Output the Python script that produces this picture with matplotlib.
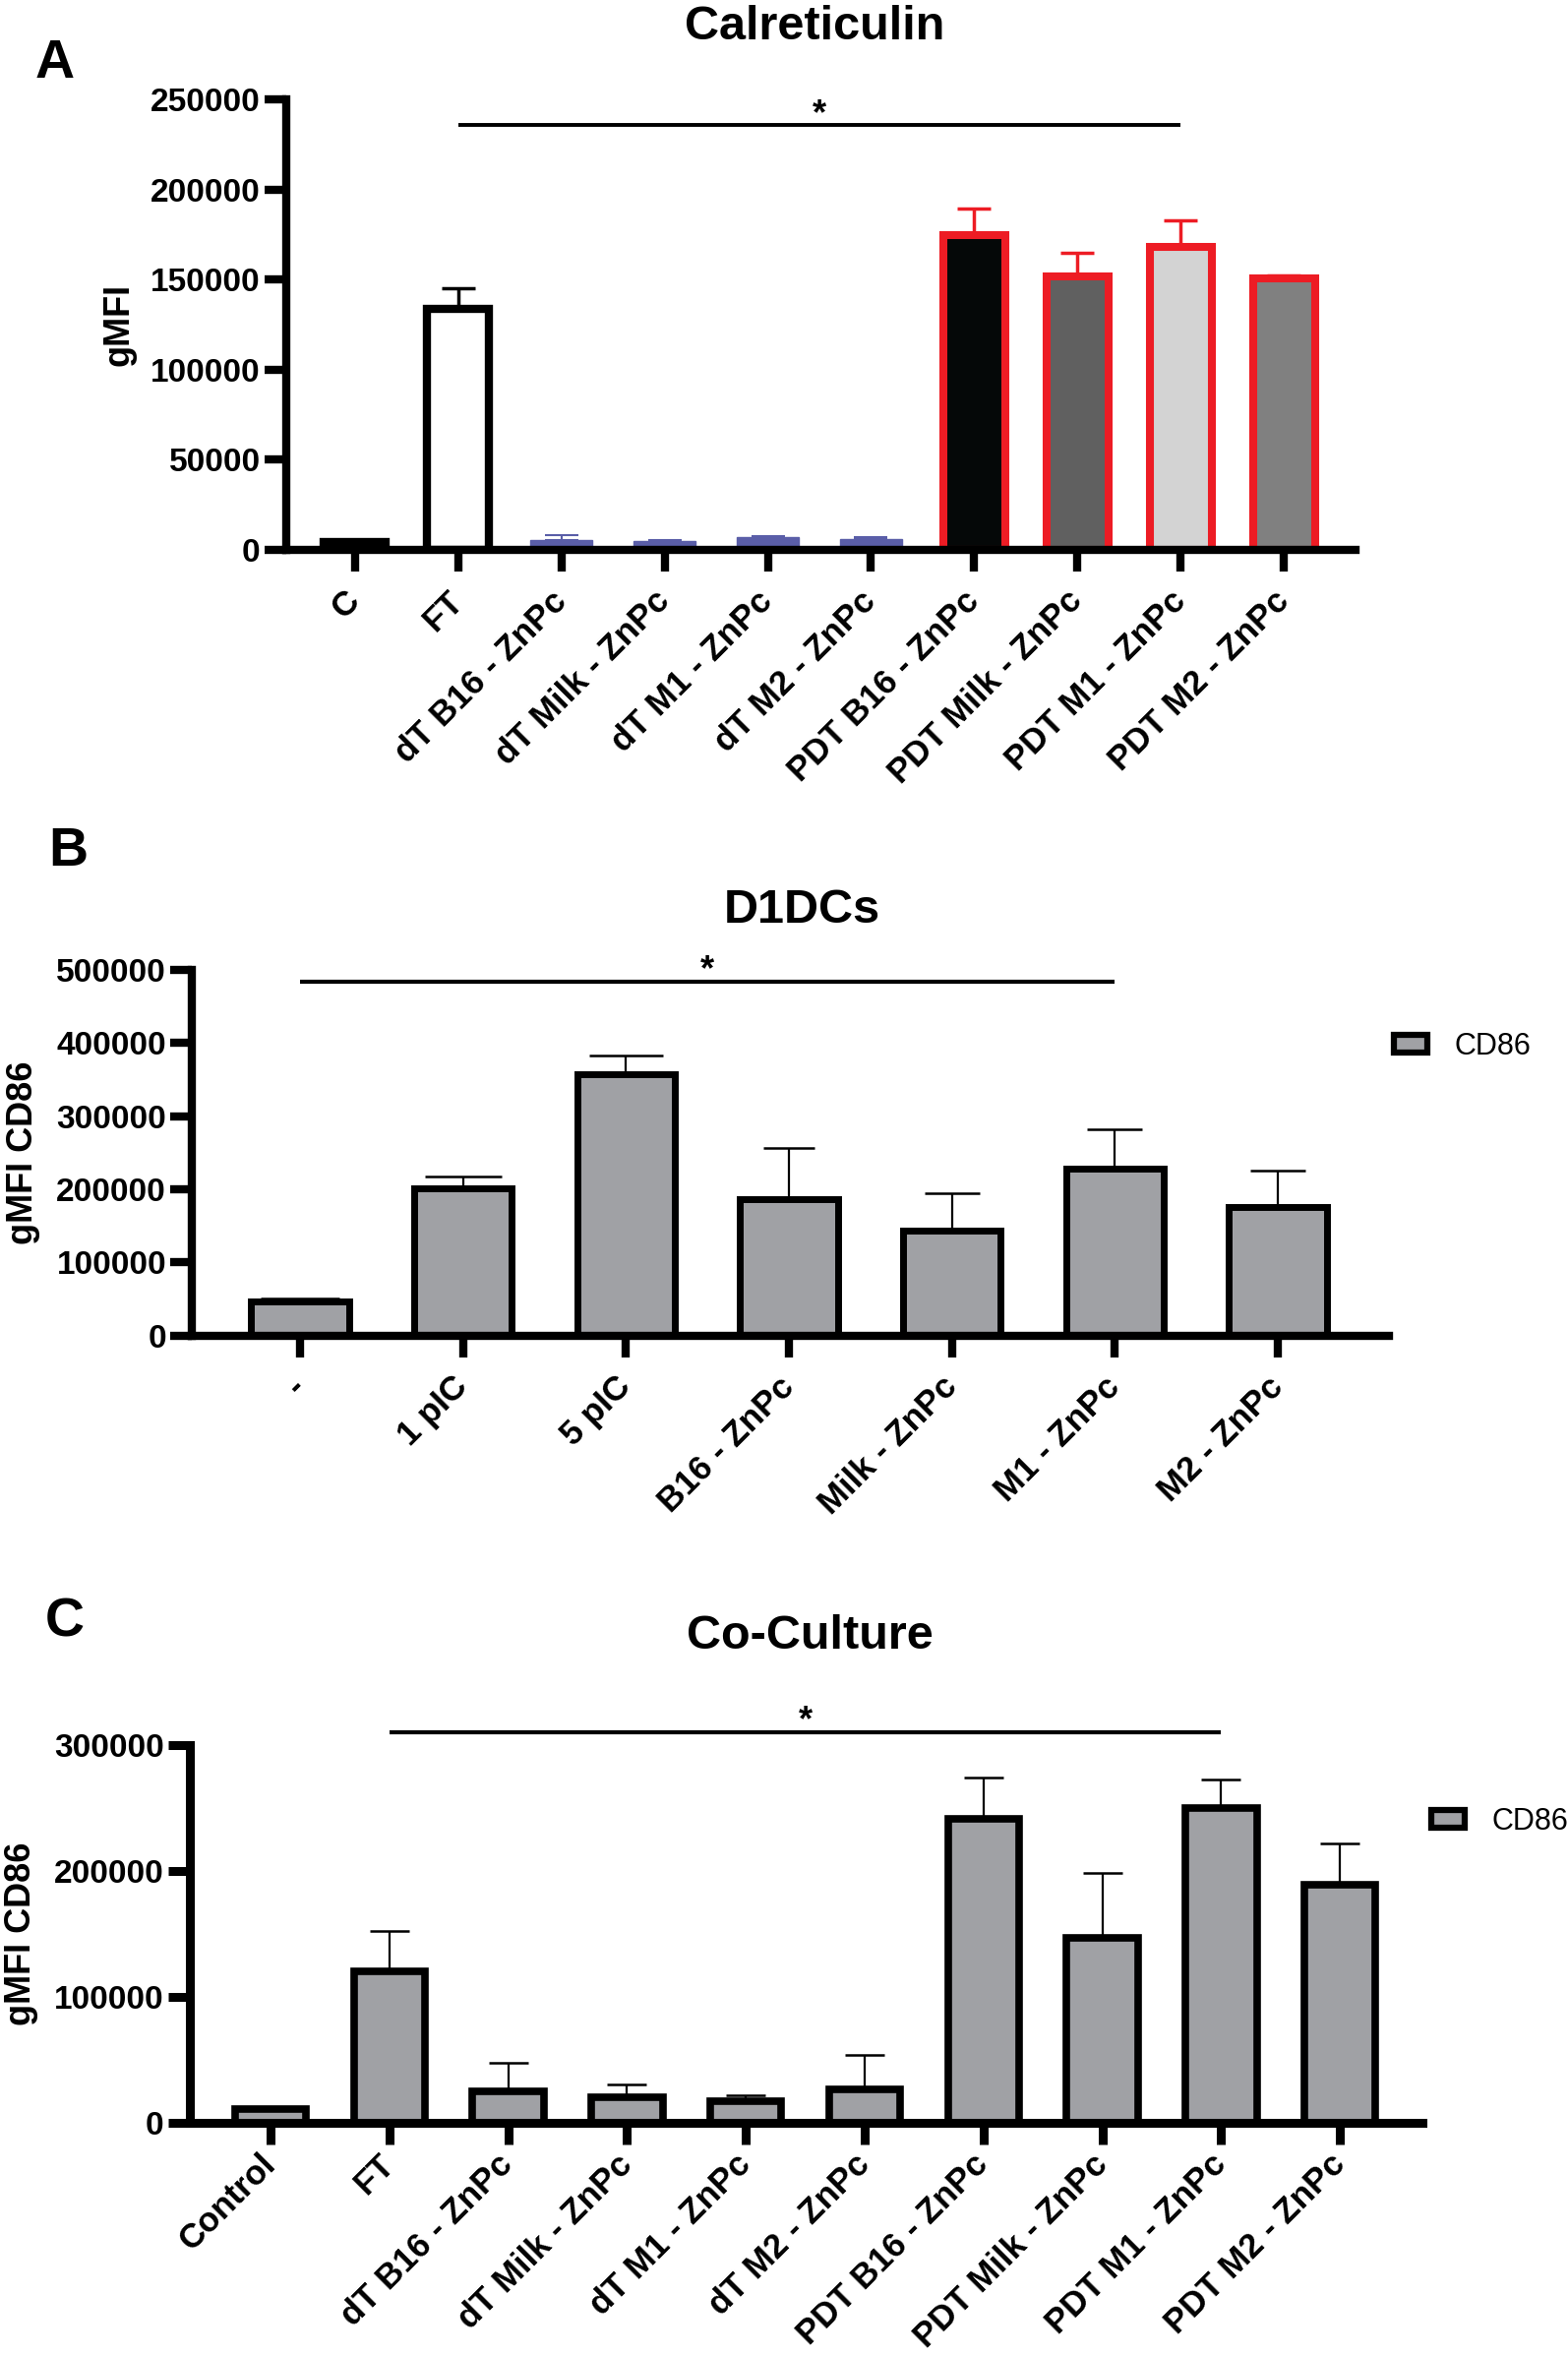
import matplotlib
matplotlib.use('Agg')
import matplotlib.pyplot as plt
from matplotlib.patches import Patch
import numpy as np

plt.rcParams['font.family'] = ['Liberation Sans', 'DejaVu Sans']

# ---------------- data ----------------
# Panel A: Calreticulin
calr_labels = ['C', 'FT', 'dT B16 - ZnPc', 'dT Milk - ZnPc', 'dT M1 - ZnPc', 'dT M2 - ZnPc',
               'PDT B16 - ZnPc', 'PDT Milk - ZnPc', 'PDT M1 - ZnPc', 'PDT M2 - ZnPc']
calr_values = [4000, 134000, 5500, 4500, 7000, 6000, 174600, 151600, 168400, 150600]
calr_err = [500, 11500, 2500, 700, 700, 1000, 15200, 13600, 14600, 1600]
calr_yticks = [0, 50000, 100000, 150000, 200000, 250000]

# Panel B: D1DCs
d1_labels = ['-', '1 pIC', '5 pIC', 'B16 - ZnPc', 'Milk - ZnPc', 'M1 - ZnPc', 'M2 - ZnPc']
d1_values = [46000, 201000, 357000, 187000, 143000, 228000, 176000]
d1_err = [5000, 16500, 26000, 69000, 51000, 54000, 50000]
d1_yticks = [0, 100000, 200000, 300000, 400000, 500000]

# Panel C: Co-Culture
cc_labels = ['Control', 'FT', 'dT B16 - ZnPc', 'dT Milk - ZnPc', 'dT M1 - ZnPc', 'dT M2 - ZnPc',
             'PDT B16 - ZnPc', 'PDT Milk - ZnPc', 'PDT M1 - ZnPc', 'PDT M2 - ZnPc']
cc_values = [11000, 120000, 24800, 20600, 17300, 26800, 241300, 147000, 250000, 188900]
cc_err = [1000, 32000, 23200, 9800, 4700, 26800, 33200, 51600, 22600, 33100]
cc_yticks = [0, 100000, 200000, 300000]

# significance brackets (start index, end index, height)
calr_sig = (1, 8, 235800)
d1_sig = (0, 5, 484500)
cc_sig = (1, 8, 310400)

# ---------------- styles ----------------
BLUE = '#5a5ea8'
RED = '#ed1c24'
GRAY = '#a0a1a5'
calr_fill = ['#050505', '#ffffff', BLUE, BLUE, BLUE, BLUE, '#050808', '#606060', '#d3d3d3', '#808080']
calr_edge = ['#000000', '#000000', BLUE, BLUE, BLUE, BLUE, RED, RED, RED, RED]
calr_edge_lw = [6, 6, 1, 1, 1, 1, 5.8, 5.8, 5.8, 5.8]
calr_err_lw = [2.5, 2.5, 1.5, 1.5, 1.5, 1.5, 2.5, 2.5, 2.5, 2.5]
d1_caps = [29, 28, 27, 19, 20, 20, 20]

W, H = 1594, 2392
fig = plt.figure(figsize=(W / 100, H / 100), dpi=100)


def add_ax(left, right, top, bottom):
    return fig.add_axes([left / W, 1 - bottom / H, (right - left) / W, (bottom - top) / H])


def style_axes(ax, spine_lw, xpad):
    for s in ['top', 'right']:
        ax.spines[s].set_visible(False)
    for s in ['left', 'bottom']:
        ax.spines[s].set_linewidth(spine_lw)
        ax.spines[s].set_zorder(6)
        ax.spines[s].set_capstyle('projecting')
    ax.tick_params(axis='both', direction='out', length=16, width=spine_lw, color='black')
    ax.tick_params(axis='y', pad=3, labelsize=24)
    ax.tick_params(axis='x', pad=xpad, labelsize=25)
    for t in ax.get_yticklabels():
        t.set_fontweight('bold')


def set_xlabels(ax, labels):
    ax.set_xticks(range(len(labels)))
    ax.set_xticklabels(labels, rotation=45, ha='right', va='center',
                       rotation_mode='anchor', fontweight='bold', fontsize=25)


def sig(ax, s, lw):
    x0, x1, y = s
    ax.plot([x0, x1], [y, y], color='black', lw=lw, clip_on=False, solid_capstyle='butt')
    ax.annotate('*', xy=((x0 + x1) / 2, y), xytext=(0, 1), textcoords='offset points',
                ha='center', va='baseline', fontsize=26, fontweight='bold', annotation_clip=False)


def fmt_yticks(ax, ticks):
    ax.set_yticks(ticks)
    ax.set_yticklabels([str(t) for t in ticks], fontweight='bold', fontsize=24)


# ---------------- Panel A ----------------
axA = add_ax(291, 1378, 101.4, 558.7)
xa = np.arange(len(calr_labels))
for i in range(len(calr_labels)):
    axA.bar(xa[i], calr_values[i], width=0.6, color=calr_fill[i], edgecolor=calr_edge[i],
            linewidth=calr_edge_lw[i], zorder=3)
    axA.errorbar(xa[i], calr_values[i], yerr=[[0], [calr_err[i]]], fmt='none',
                 ecolor=calr_edge[i], elinewidth=calr_err_lw[i], capsize=12.2,
                 capthick=calr_err_lw[i], zorder=2)
axA.set_xlim(-0.667, 9.695)
axA.set_ylim(0, 250000)
fmt_yticks(axA, calr_yticks)
set_xlabels(axA, calr_labels)
style_axes(axA, 6, 18)
axA.set_ylabel('gMFI', fontsize=26, fontweight='bold')
axA.yaxis.set_label_coords((138 - 291) / 1087, 0.5)
sig(axA, calr_sig, 2.8)

# ---------------- Panel B ----------------
axB = add_ax(195.4, 1412, 986, 1357.5)
xb = np.arange(len(d1_labels))
axB.bar(xb, d1_values, width=0.6, color=GRAY, edgecolor='black', linewidth=5, zorder=3,
        label='CD86')
for i in range(len(d1_labels)):
    axB.errorbar(xb[i], d1_values[i], yerr=[[0], [d1_err[i]]], fmt='none', ecolor='black',
                 elinewidth=1.6, capsize=d1_caps[i], capthick=1.8, zorder=2)
axB.set_xlim(-0.661, 6.681)
axB.set_ylim(0, 500000)
fmt_yticks(axB, d1_yticks)
set_xlabels(axB, d1_labels)
style_axes(axB, 6, 18)
axB.set_ylabel('gMFI CD86', fontsize=26, fontweight='bold')
axB.yaxis.set_label_coords((41 - 195.4) / 1216.6, 0.5)
sig(axB, d1_sig, 3)

# ---------------- Panel C ----------------
axC = add_ax(193, 1446, 1774, 2158)
xc = np.arange(len(cc_labels))
axC.bar(xc, cc_values, width=0.6, color=GRAY, edgecolor='black', linewidth=5.5, zorder=3,
        label='CD86')
axC.errorbar(xc, cc_values, yerr=[np.zeros(len(cc_err)), cc_err], fmt='none', ecolor='black',
             elinewidth=1.6, capsize=14.4, capthick=1.8, zorder=2)
axC.set_xlim(-0.679, 9.694)
axC.set_ylim(0, 300000)
fmt_yticks(axC, cc_yticks)
set_xlabels(axC, cc_labels)
style_axes(axC, 6.5, 11)
axC.set_ylabel('gMFI CD86', fontsize=26, fontweight='bold')
axC.yaxis.set_label_coords((39 - 193) / 1253, 0.5)
sig(axC, cc_sig, 3)

# ---------------- legends ----------------
for ax, (lx, ly) in [(axB, (1417, 1064)), (axC, (1455, 1852))]:
    h = Patch(facecolor=GRAY, edgecolor='black', linewidth=4.5)
    ax.legend(handles=[h], labels=['CD86'], loc='center left',
              bbox_to_anchor=(lx / W, 1 - ly / H), bbox_transform=fig.transFigure,
              frameon=False, fontsize=22, handlelength=1.1, handleheight=0.5,
              handletextpad=0.9, borderpad=0, borderaxespad=0)

# ---------------- titles & panel letters ----------------
fig.text(828 / W, 1 - 28 / H, 'Calreticulin', ha='center', va='center', fontsize=35, fontweight='bold')
fig.text(815 / W, 1 - 925 / H, 'D1DCs', ha='center', va='center', fontsize=35, fontweight='bold')
fig.text(823 / W, 1 - 1664 / H, 'Co-Culture', ha='center', va='center', fontsize=35, fontweight='bold')
fig.text(56 / W, 1 - 65 / H, 'A', ha='center', va='center', fontsize=40, fontweight='bold')
fig.text(69 / W, 1 - 866 / H, 'B', ha='center', va='center', fontsize=40, fontweight='bold')
fig.text(66 / W, 1 - 1650 / H, 'C', ha='center', va='center', fontsize=40, fontweight='bold')

fig.savefig('out.png', dpi=100, facecolor='white')
